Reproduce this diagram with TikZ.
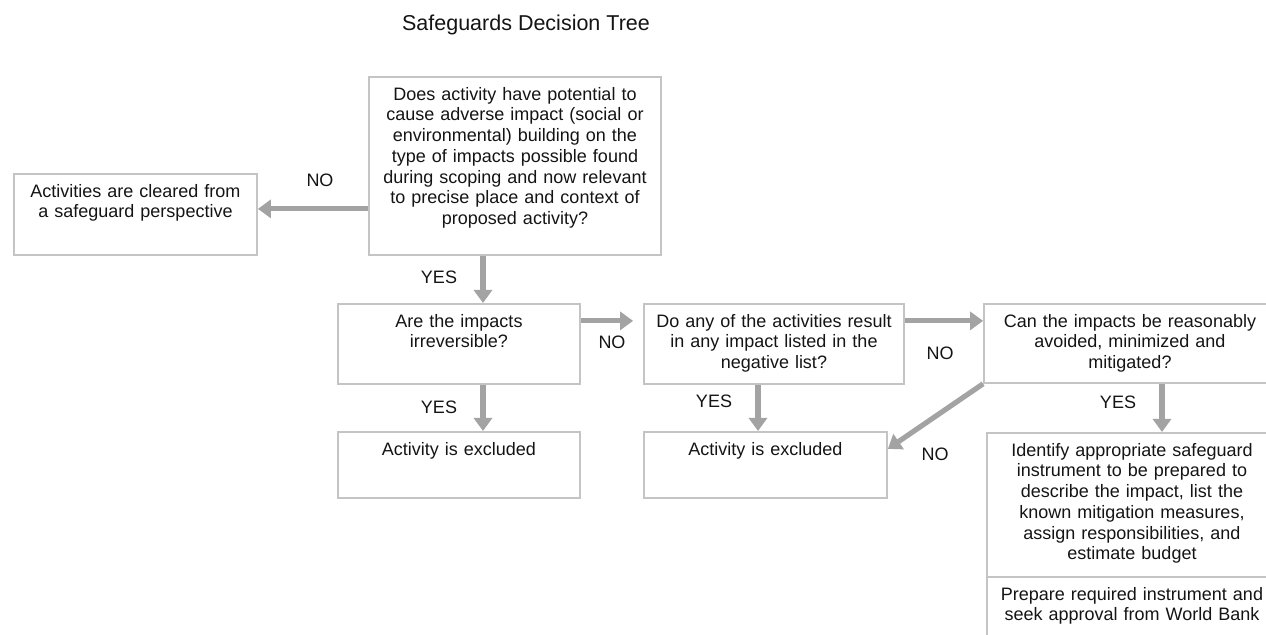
\documentclass[tikz,border=0pt]{standalone}
\usepackage{fontspec}
\setmainfont{Liberation Sans}
\usetikzlibrary{arrows.meta}
\definecolor{boxgray}{HTML}{C4C4C4}
\definecolor{arrowgray}{HTML}{A3A3A3}
\definecolor{inkgray}{HTML}{141414}

\begin{document}
\begin{tikzpicture}[x=0.5pt, y=-0.5pt,
  box/.style={rectangle, draw=boxgray, line width=0.9pt, anchor=north, align=center,
    inner xsep=3pt, inner ysep=4.7pt, text height=7pt, text=inkgray,
    font=\fontsize{9}{10.35}\selectfont},
  flow/.style={draw=arrowgray, line width=2.6pt, -{Triangle[length=6.5pt,width=9pt]}},
  answer/.style={text=inkgray, font=\fontsize{9}{10.35}\selectfont}]

  \useasboundingbox (0,0) rectangle (1266,635);

  \node [text=inkgray, font=\fontsize{10.75}{12}\selectfont] (title) at (526,25) {Safeguards Decision Tree};

  % TOP
  \node [box, text width=140pt, text depth=72.6pt] (scope) at (515,76) {Does activity have potential to\\cause adverse impact (social or\\environmental) building on the\\type of impacts possible found\\during scoping and now relevant\\to precise place and context of\\proposed activity?};
  \node [box, text width=115.5pt, text depth=24.1pt] (cleared) at (135.5,173) {Activities are cleared from\\a safeguard perspective};
  \draw [flow] ([yshift=2.75pt]cleared.east -| scope.west) -- ([yshift=2.75pt]cleared.east);
  \node [answer] (noclear) at (320,180) {NO};

  %MIDDLE
  \node [box, text width=115pt, text depth=23.6pt] (irrev) at (459,303) {Are the impacts\\irreversible?};
  \draw [flow] ([xshift=12pt]irrev.north |- scope.south) -- ([xshift=12pt]irrev.north);
  \node [answer] (yesscope) at (439,277) {YES};

  \node [box, text width=124pt, text depth=23.6pt] (neglist) at (774,303) {Do any of the activities result\\in any impact listed in the\\negative list?};
  \draw [flow, shorten >=5pt] ([yshift=11.5pt]irrev.east) -- ([yshift=11.5pt]irrev.east -| neglist.west);
  \node [answer] (noirrev) at (612,342) {NO};

  \node [box, text width=140pt, text depth=23.1pt] (mitig) at (1130,303) {Can the impacts be reasonably\\avoided, minimized and\\mitigated?};
  \draw [flow] ([yshift=11.5pt]neglist.east) -- ([yshift=11.5pt]neglist.east -| mitig.west);
  \node [answer] (noneg) at (940,353) {NO};

  %BOTTOM
  \node [box, text width=115pt, text depth=16.6pt] (exclA) at (459,431) {Activity is excluded};
  \draw [flow] ([xshift=12pt]irrev.south) -- ([xshift=12pt]exclA.north);
  \node [answer] (yesirrev) at (439,407) {YES};

  \node [box, text width=115.5pt, text depth=16.6pt] (exclB) at (765.5,431) {Activity is excluded};
  \draw [flow] ([xshift=-8pt]neglist.south) -- ([xshift=-8pt]neglist.south |- exclB.north);
  \node [answer] (yesneg) at (714,401) {YES};

  \draw [flow] (mitig.south west) -- ([yshift=8pt]exclB.east);
  \node [answer] (nomitig) at (935,454) {NO};

  \node [box, text width=139pt, text depth=55.6pt] (instr) at (1132,432) {Identify appropriate safeguard\\instrument to be prepared to\\describe the impact, list the\\known mitigation measures,\\assign responsibilities, and\\estimate budget};
  \draw [flow] ([xshift=16pt]mitig.south) -- ([xshift=16pt]mitig.south |- instr.north);
  \node [answer] (yesmitig) at (1118,402) {YES};

  \node [box, text width=139pt, text depth=23.6pt] (approve) at ([yshift=0.9pt]instr.south) {Prepare required instrument and\\seek approval from World Bank};

\end{tikzpicture}
\end{document}
